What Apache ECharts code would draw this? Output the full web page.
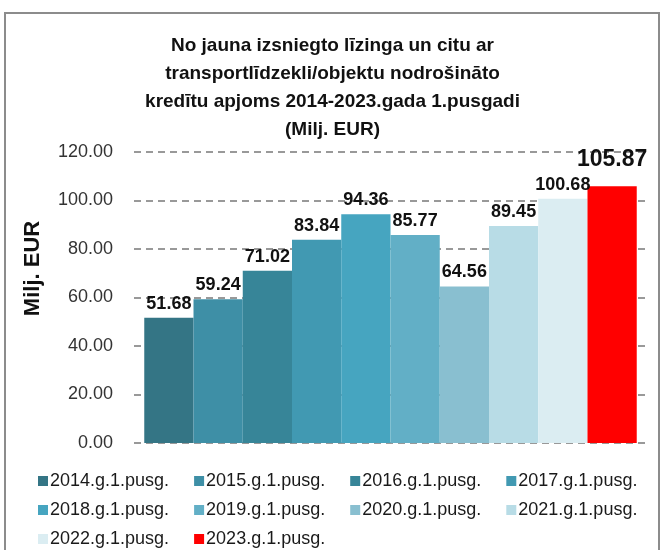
<!DOCTYPE html>
<html>
<head>
<meta charset="utf-8">
<script src="https://cdn.jsdelivr.net/npm/echarts@6/dist/echarts.min.js"></script>
<style>
  html, body { margin: 0; padding: 0; background: #fff; }
  #chart { width: 665px; height: 550px; }
</style>
</head>
<body>
<div id="chart"></div>
<script>
// series names (one bar each)
var seriesNames = ['2014.g.1.pusg.', '2015.g.1.pusg.', '2016.g.1.pusg.', '2017.g.1.pusg.',
    '2018.g.1.pusg.', '2019.g.1.pusg.', '2020.g.1.pusg.', '2021.g.1.pusg.',
    '2022.g.1.pusg.', '2023.g.1.pusg.'];
var seriesValues = [51.68, 59.24, 71.02, 83.84, 94.36, 85.77, 64.56, 89.45, 100.68, 105.87];
var seriesColors = ['#347585', '#3e8fa6', '#378598', '#4199b2', '#46a5c0', '#62afc6',
    '#89bfd0', '#b8dce6', '#dbedf2', '#ff0000'];
var yTicks = [0, 20, 40, 60, 80, 100, 120];

var font = 'Liberation Sans';
var chart;

function buildSeries() {
    var list = [];
    for (var i = 0; i < seriesNames.length; i++) {
        var last = i === seriesNames.length - 1;
        list.push({
            name: seriesNames[i],
            type: 'bar',
            barGap: 0,
            barCategoryGap: '4%',
            itemStyle: { color: seriesColors[i] },
            label: {
                show: true,
                position: 'top',
                distance: last ? 15 : 5,
                fontFamily: font,
                fontWeight: 'bold',
                fontSize: last ? 23 : 18,
                color: '#111',
                formatter: function (p) { return p.value.toFixed(2); }
            },
            data: [seriesValues[i]]
        });
    }
    return list;
}

// one legend per row so the columns line up like the original
function legendRow(names, top) {
    return {
        data: names,
        left: 33,
        top: top,
        itemWidth: 10,
        itemHeight: 10,
        itemGap: 25,
        icon: 'rect',
        textStyle: { fontFamily: font, fontSize: 18, color: '#1a1a1a', padding: [0, 0, 0, -3] }
    };
}

chart = echarts.init(document.getElementById('chart'));
var option = {
    animation: false,
    backgroundColor: '#fff',
    title: {
        text: 'No jauna izsniegto līzinga un citu ar\ntransportlīdzekli/objektu nodrošināto\nkredītu apjoms 2014-2023.gada 1.pusgadi\n(Milj. EUR)',
        left: 'center',
        top: 27,
        textStyle: {
            fontFamily: font,
            fontWeight: 'bold',
            fontSize: 19,
            lineHeight: 28,
            color: '#111'
        }
    },
    legend: [
        legendRow(seriesNames.slice(0, 4), 467),
        legendRow(seriesNames.slice(4, 8), 496),
        legendRow(seriesNames.slice(8, 10), 525)
    ],
    grid: { left: 134, right: 18, top: 152, bottom: 107 },
    xAxis: {
        type: 'category',
        data: [''],
        axisLine: { show: false },
        axisTick: { show: false },
        axisLabel: { show: false }
    },
    yAxis: {
        type: 'value',
        min: yTicks[0],
        max: yTicks[yTicks.length - 1],
        interval: 20,
        name: 'Milj. EUR',
        nameLocation: 'middle',
        nameGap: 90,
        nameTextStyle: {
            fontFamily: font,
            fontWeight: 'bold',
            fontSize: 22,
            color: '#111',
            padding: [0, 0, 0, 58]
        },
        axisLabel: {
            margin: 21,
            fontFamily: font,
            fontSize: 18,
            color: '#333',
            formatter: function (v) { return v.toFixed(2); }
        },
        axisLine: { show: false },
        axisTick: { show: false },
        splitLine: {
            lineStyle: { color: '#999', width: 2, type: [7, 5] }
        }
    },
    graphic: [{
        type: 'rect',
        shape: { x: 5, y: 13, width: 654, height: 600 },
        style: { fill: 'none', stroke: '#8c8c8c', lineWidth: 2 },
        silent: true
    }],
    series: buildSeries()
};
chart.setOption(option);
</script>
</body>
</html>
